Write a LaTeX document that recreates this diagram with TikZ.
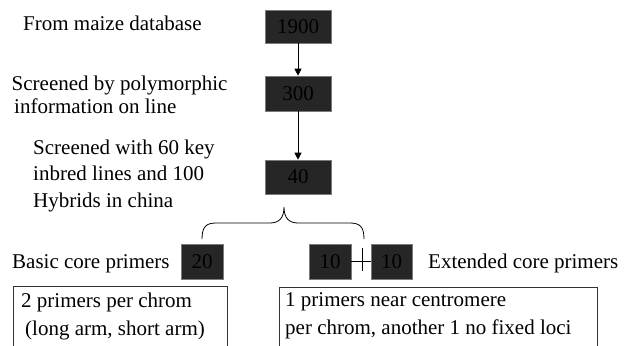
\documentclass[tikz,border=0pt]{standalone}
\usepackage{fontspec}
\setmainfont{Liberation Serif}
\usetikzlibrary{arrows.meta}
\definecolor{boxfill}{HTML}{262626}
\definecolor{boxedge}{HTML}{7A7A7A}
\begin{document}
\begin{tikzpicture}[x=1pt,y=-1pt,
  every node/.style={font=\fontsize{21}{23}\selectfont, inner sep=0pt},
  numbox/.style={draw=boxedge, line width=0.6pt, fill=boxfill, text=black,
    minimum height=35pt},
  textline/.style={anchor=west, align=left},
  notebox/.style={draw=black!80, line width=0.7pt, anchor=north west,
    minimum height=75pt},
  flow/.style={-{Triangle[width=7pt,length=7pt]}, line width=0.8pt},
  link/.style={line width=0.8pt}]
\useasboundingbox (0,0) rectangle (628,345);

% count boxes
\node[numbox, minimum width=66pt, minimum height=33pt] (n1900) at (298,26.5) {1900};
\node[numbox, minimum width=66pt] (n300) at (298,93.5) {300};
\node[numbox, minimum width=66pt, minimum height=34pt] (n40) at (298,177) {40};
\node[numbox, minimum width=42pt] (n20) at (202,261.5) {20};
\node[numbox, minimum width=42pt] (n10a) at (330,261.5) {10};
\node[numbox, minimum width=41pt] (n10b) at (391.5,261.5) {10};

% step descriptions
\node[textline] (t1) at (23,23.5) {From maize database};
\node[textline, font=\fontsize{21}{22.5}\selectfont] (t2) at (11.5,95) {Screened by polymorphic\\\hspace{2.5pt}information on line};
\node[textline, font=\fontsize{21}{26.5}\selectfont] (t3) at (33,175.5) {Screened with 60 key\\inbred lines and 100\\Hybrids in china};
\node[textline] (basic) at (12,263.5) {Basic core primers};
\node[textline] (ext) at (428,263.5) {Extended core primers};

% notes (open at the bottom edge of the page)
\node[notebox, minimum width=214pt] (noteL) at (13,286) {};
\node[notebox, minimum width=318pt] (noteR) at (279,287) {};
\node[textline, font=\fontsize{21}{28}\selectfont] (noteLtxt) at (21,316) {2 primers per chrom\\\hspace{4pt}(long arm, short arm)};
\node[textline, font=\fontsize{21}{28}\selectfont] (noteRtxt) at (285,316) {1 primers near centromere\\per chrom, another 1 no fixed loci};

% flow arrows
\draw[flow] (n1900) -- (n300);
\draw[flow] (n300) -- (n40);

% brace splitting the 40 markers
\coordinate (bL) at (202,239);
\coordinate (bR) at (364,239);
\coordinate (bTip) at (284,207);
\draw[link] (bL) .. controls (202,227) and (206,223) .. (216,223)
  -- (270,223) .. controls (279,223) and (284,218) .. (bTip)
  .. controls (284,218) and (289,223) .. (298,223)
  -- (350,223) .. controls (360,223) and (364,227) .. (bR);

% join between the two groups of 10
\draw[link] (n10a.east) -- (n10b.west);
\coordinate (jT) at (362,248);
\coordinate (jB) at (362,271);
\draw[link] (jT) -- (jB);
\end{tikzpicture}
\end{document}
